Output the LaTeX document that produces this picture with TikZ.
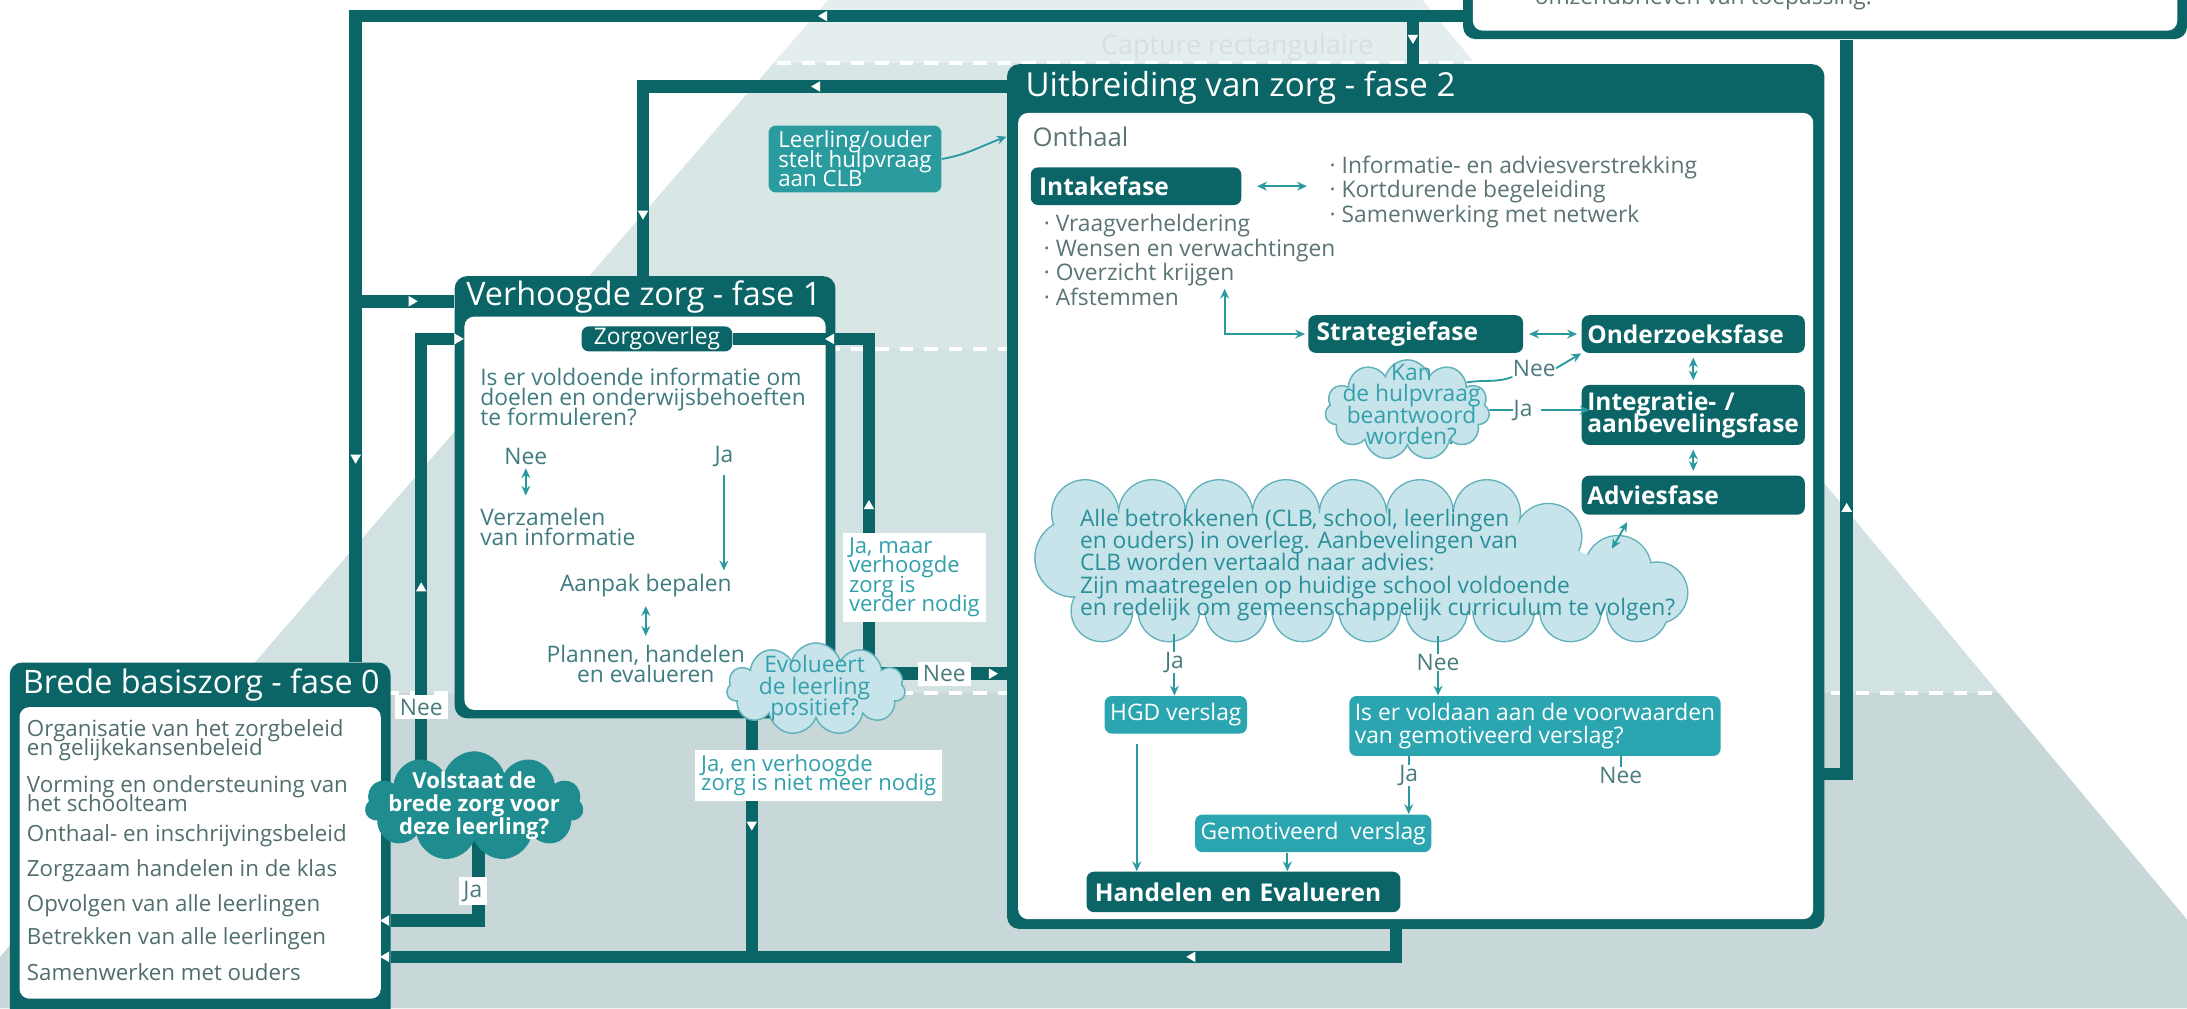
\documentclass[tikz,border=0pt]{standalone}
\usepackage{fontspec}
\setmainfont{Open Sans}
\usetikzlibrary{arrows.meta,shapes.symbols,fit}
\definecolor{dkteal}{HTML}{0B6466}
\definecolor{midteal}{HTML}{2BA6B0}
\definecolor{leerteal}{HTML}{2A9CA0}
\definecolor{cloudteal}{HTML}{1F8D8F}
\definecolor{cloudfill}{HTML}{C6E4E9}
\definecolor{cloudline}{HTML}{62B2BB}
\definecolor{cloudtxt}{HTML}{35A0AD}
\definecolor{alletxt}{HTML}{2B8F9B}
\definecolor{graytxt}{HTML}{516E6E}
\definecolor{bultxt}{HTML}{5B7474}
\definecolor{qtxt}{HTML}{3F7C80}
\definecolor{labtxt}{HTML}{2FA0AC}
\definecolor{labgray}{HTML}{4A7C7E}
\definecolor{arrowteal}{HTML}{2A9AA0}
\definecolor{bandA}{HTML}{E5EEEE}
\definecolor{bandB}{HTML}{D9E6E6}
\definecolor{bandC}{HTML}{D2E1E1}
\definecolor{bandD}{HTML}{C8D8D8}
\definecolor{ghost}{HTML}{D5E0E0}
\pgfdeclarelayer{back}
\pgfdeclarelayer{wires}
\pgfsetlayers{back,wires,main}
\newcommand{\fsz}[1]{\fontsize{9.3}{#1}\selectfont\lineskiplimit=-20pt}
\newcommand{\fsx}[2]{\fontsize{#1}{#2}\selectfont\lineskiplimit=-20pt}
\newcommand{\wtip}[3]{\fill[white,shift={(#1,#2)},rotate=#3] (3.5,0) -- (-3,3.8) -- (-3,-3.8) -- cycle;}

\begin{document}
\begin{tikzpicture}[x=0.02cm,y=-0.02cm,
  flow/.style={draw=dkteal,line width=5.1pt},
  fine/.style={draw=arrowteal,line width=0.75pt},
  arr/.style={fine,-{Stealth[length=4pt,width=3.6pt]}},
  arrs/.style={fine,{Stealth[length=4pt,width=3.6pt]}-{Stealth[length=4pt,width=3.6pt]}},
  phasebox/.style={fill=dkteal,rounded corners=5pt,inner sep=0pt},
  panel/.style={fill=white,rounded corners=4pt,inner sep=0pt},
  phasetitle/.style={anchor=west,inner sep=0pt,text=white,font=\fsx{13.2}{15}},
  dkbox/.style={fill=dkteal,text=white,font=\bfseries\fsx{10}{11},rounded corners=3pt,inner xsep=0.12cm,inner ysep=0pt,align=left},
  mdbox/.style={fill=midteal,text=white,font=\fsz{9.1},rounded corners=3pt,inner xsep=0.08cm,inner ysep=0pt,align=left},
  lab/.style={fill=white,text=labgray,font=\fsz{10},inner xsep=2pt,inner ysep=1.5pt},
  note/.style={fill=white,text=labtxt,anchor=west,align=left,inner xsep=2.5pt,inner ysep=2pt,font=\fsx{9}{7.9}},
  txt/.style={inner sep=0pt,font=\fsz{10}},
  item/.style={inner sep=0pt,anchor=west,align=left,text=graytxt,font=\fsx{9.1}{7.9}},
  lcloud/.style={cloud,cloud puffs=11,cloud ignores aspect,fill=cloudfill,draw=cloudline,line width=0.6pt,inner sep=0pt},
  dcloud/.style={cloud,cloud puffs=11,cloud ignores aspect,fill=cloudteal,draw=cloudteal,inner sep=0pt}]
\useasboundingbox (0,0) rectangle (1568,723);
\clip (0,0) rectangle (1568,723);

\begin{pgfonlayer}{back}
  \fill[white] (0,0) rectangle (1568,723);
  \begin{scope}
    \clip (811,-251) -- (1621,723) -- (-32,723) -- cycle;
    \fill[bandA] (-40,-260) rectangle (1640,45);
    \fill[bandB] (-40,45) rectangle (1640,250);
    \fill[bandC] (-40,250) rectangle (1640,497);
    \fill[bandD] (-40,497) rectangle (1640,730);
    \draw[white,line width=1.6pt,dash pattern=on 5.5pt off 4.5pt]
      (-40,45) -- (1640,45) (-40,250) -- (1640,250) (-40,497) -- (1640,497);
  \end{scope}
  \node[txt,text=ghost,font=\fsx{11}{13}] (ghost) at (887,34) {Capture rectangulaire};
\end{pgfonlayer}

% boxes
\node[phasebox,fit={(1049,-40) (1568,28)}] (topbox) {};
\node[panel,fit={(1056,-40) (1561,22)}] (topin) {};
\node[txt,anchor=west,text=bultxt] (omzend) at (1100,-1) {omzendbrieven van toepassing.};

\node[phasebox,fit={(7,475) (280,740)}] (f0) {};
\node[panel,fit={(14,507) (273,716)}] (f0in) {};
\node[phasetitle] (f0title) at (16,491) {Brede basiszorg - fase 0};

\node[phasebox,fit={(326,198) (599,515)}] (f1) {};
\node[panel,fit={(333,227) (592,509)}] (f1in) {};
\node[phasetitle] (f1title) at (334,213) {Verhoogde zorg - fase 1};

\node[phasebox,fit={(722,46) (1308,666)}] (f2) {};
\node[panel,fit={(730,81) (1300,659)}] (f2in) {};
\node[phasetitle,font=\fsx{13.5}{15}] (f2title) at (735,63) {Uitbreiding van zorg - fase 2};

% fase 0
\node[item] (b1) at (19,530.5) {Organisatie van het zorgbeleid\\en gelijkekansenbeleid};
\node[item] (b2) at (19,569) {Vorming en ondersteuning van\\het schoolteam};
\node[item] (b3) at (19,599) {Onthaal- en inschrijvingsbeleid};
\node[item] (b4) at (19,624) {Zorgzaam handelen in de klas};
\node[item] (b5) at (19,649) {Opvolgen van alle leerlingen};
\node[item] (b6) at (19,673) {Betrekken van alle leerlingen};
\node[item] (b7) at (19,697) {Samenwerken met ouders};

% fase 1
\node[dkbox,font=\fsz{10},minimum width=2.16cm,minimum height=0.36cm,align=center] (zorg) at (471,243) {Zorgoverleg};
\draw[flow] (zorg.east) -- (zorg.east -| f1.east);
\node[txt,anchor=west,align=left,text=qtxt,font=\fsz{8.3}] (vraag) at (344,284.5) {Is er voldoende informatie om\\doelen en onderwijsbehoeften\\te formuleren?};
\node[txt,text=qtxt] (neeV) at (377,327) {Nee};
\node[txt,text=qtxt] (jaV) at (519,327) {Ja};
\node[txt,anchor=west,align=left,text=qtxt,font=\fsz{8}] (verzamel) at (344,378) {Verzamelen\\van informatie};
\node[txt,text=qtxt] (aanpak) at (463,420) {Aanpak bepalen};
\node[txt,align=center,text=qtxt,font=\fsz{8.5}] (plannen) at (463,476) {Plannen, handelen\\en evalueren};
\draw[arrs] ([yshift=-0.05cm]neeV.south) -- ([yshift=0.18cm]verzamel.north -| neeV.south);
\draw[arr] ([yshift=-0.12cm]jaV.south) -- ([yshift=0.05cm]jaV.south |- aanpak.north);
\draw[arrs] ([yshift=-0.12cm]aanpak.south) -- ([yshift=0.12cm]plannen.north);

% fase 2
\node[mdbox,fill=leerteal,minimum width=2.48cm,minimum height=0.96cm,font=\fsx{9.1}{8}] (leerling) at (613,114) {Leerling/ouder\\stelt hulpvraag\\aan CLB};
\node[txt,anchor=west,text=bultxt,font=\fsx{10.5}{12}] (onthaal) at (740,98) {Onthaal};
\draw[arr] (leerling.east) to[out=10,in=200] (f2.west |- onthaal);
\node[dkbox,text width=2.78cm,minimum height=0.54cm] (intake) at (814.5,133.5) {Intakefase};
\node[txt,anchor=west,align=left,text=bultxt,font=\fsz{9.9}] (infolist) at (953,137.5) {· Informatie- en adviesverstrekking\\· Kortdurende begeleiding\\· Samenwerking met netwerk};
\draw[arrs] ([xshift=0.22cm]intake.east) -- ([xshift=-0.32cm]infolist.west |- intake.east);
\node[txt,anchor=west,align=left,text=bultxt,font=\fsz{10}] (intakelist) at (748,186.5) {· Vraagverheldering\\· Wensen en verwachtingen\\· Overzicht krijgen\\· Afstemmen};
\node[dkbox,text width=2.84cm,minimum height=0.54cm] (strat) at (1015,239.5) {Strategiefase};
\node[dkbox,inner xsep=0.08cm,text width=3.04cm,minimum height=0.54cm] (onderzoek) at (1214,239.5) {Onderzoeksfase};
\node[dkbox,inner xsep=0.08cm,text width=3.04cm,minimum height=0.86cm,font=\bfseries\fsx{10}{9.1}] (integr) at (1214,297.5) {Integratie- /\\aanbevelingsfase};
\node[dkbox,inner xsep=0.08cm,text width=3.04cm,minimum height=0.56cm] (advies) at (1214,355) {Adviesfase};
\coordinate (afst) at (878,207);
\draw[arrs] (afst) |- ([xshift=-0.04cm]strat.west);
\draw[arrs] ([xshift=0.08cm]strat.east) -- ([xshift=-0.06cm]onderzoek.west);
\draw[arrs] ([yshift=-0.06cm]onderzoek.south) -- ([yshift=0.06cm]integr.north);
\draw[arrs] ([yshift=-0.06cm]integr.south) -- ([yshift=0.06cm]advies.north);

\node[lcloud,minimum width=2.36cm,minimum height=1.44cm] (kan) at (1009,294) {};
\node[txt,align=center,text=cloudtxt,font=\fsz{8.7}] (kantxt) at (1012,290) {Kan\\de hulpvraag\\beantwoord\\worden?};
\node[txt,text=labgray] (neeKan) at (1100,264) {Nee};
\node[txt,text=labgray] (jaKan) at (1092,294) {Ja};
\draw[fine] (kan.25) to[out=10,in=200] (neeKan.south west);
\draw[arr] (neeKan.east) -- (onderzoek.south west);
\draw[fine] (kan.east) -- (jaKan.west);
\draw[arr] ([xshift=0.12cm]jaKan.east) -- ([xshift=0.12cm]jaKan.east -| integr.west);

\filldraw[fill=cloudfill,draw=cloudline,line width=0.6pt]
  (770,400) circle (28) (778,368) circle (24) (826,368) circle (24) (874,368) circle (24)
  (922,368) circle (24) (970,368) circle (24) (1018,368) circle (24) (1066,368) circle (24)
  (1110,385) circle (24) (1160,408) circle (24) (1188,425) circle (22)
  (790,438) circle (22) (838,438) circle (22) (886,438) circle (22) (934,438) circle (22)
  (982,438) circle (22) (1030,438) circle (22) (1078,438) circle (22) (1126,438) circle (22)
  (1174,438) circle (22);
\fill[cloudfill]
  (778,368) -- (1066,368) -- (1110,385) -- (1160,408) -- (1188,425) -- (1174,438) -- (790,438) -- (770,400) -- cycle
  (770,400) circle (27.4) (778,368) circle (23.4) (826,368) circle (23.4) (874,368) circle (23.4)
  (922,368) circle (23.4) (970,368) circle (23.4) (1018,368) circle (23.4) (1066,368) circle (23.4)
  (1110,385) circle (23.4) (1160,408) circle (23.4) (1188,425) circle (21.4)
  (790,438) circle (21.4) (838,438) circle (21.4) (886,438) circle (21.4) (934,438) circle (21.4)
  (982,438) circle (21.4) (1030,438) circle (21.4) (1078,438) circle (21.4) (1126,438) circle (21.4)
  (1174,438) circle (21.4);
\node[txt,anchor=west,align=left,text=alletxt,font=\fsz{9.1}] (alle) at (774,405) {Alle betrokkenen (CLB, school, leerlingen\\en ouders) in overleg. Aanbevelingen van\\CLB worden vertaald naar advies:\\Zijn maatregelen op huidige school voldoende\\en redelijk om gemeenschappelijk curriculum te volgen?};
\draw[arrs] ([shift={(0.66cm,-0.1cm)}]advies.south west) -- ([shift={(0.44cm,-0.48cm)}]advies.south west);

\node[txt,text=labgray] (jaAlle) at (842,475) {Ja};
\node[txt,text=labgray] (neeAlle) at (1031,475) {Nee};
\node[mdbox,minimum width=2cm,minimum height=0.54cm] (hgd) at (843,512.5) {HGD verslag};
\node[mdbox,minimum width=5.18cm,minimum height=0.86cm] (voldaan) at (1100.5,520.5) {Is er voldaan aan de voorwaarden\\van gemotiveerd verslag?};
\node[txt,text=labgray] (jaVold) at (1010,556) {Ja};
\node[txt,text=labgray] (neeVold) at (1162,556) {Nee};
\node[mdbox,minimum width=3.3cm,minimum height=0.54cm] (gemot) at (941.5,597.5) {Gemotiveerd\ \ verslag};
\node[dkbox,text width=4.26cm,minimum height=0.58cm] (handelen) at (891.5,639.5) {Handelen en Evalueren};
\draw[fine] ([yshift=0.26cm]jaAlle.north) -- (jaAlle.north);
\draw[arr] (jaAlle.south) -- (jaAlle.south |- hgd.north);
\draw[fine] ([yshift=0.26cm]neeAlle.north) -- (neeAlle.north);
\draw[arr] (neeAlle.south) -- (neeAlle.south |- voldaan.north);
\coordinate (hgdout) at ([shift={(-0.56cm,-0.14cm)}]hgd.south);
\draw[arr] (hgdout) -- (hgdout |- handelen.north);
\draw[fine] (jaVold.north |- voldaan.south) -- (jaVold.north);
\draw[arr] (jaVold.south) -- (jaVold.south |- gemot.north);
\draw[fine] (neeVold.north |- voldaan.south) -- (neeVold.north);
\coordinate (gemout) at ([xshift=-0.37cm]gemot.south);
\draw[arr] (gemout) -- (gemout |- handelen.north);

% clouds and labels of the loops
\node[dcloud,minimum width=3.12cm,minimum height=1.56cm] (volstaat) at (340,578) {};
\node[txt,align=center,text=white,font=\bfseries\fsx{9}{9.4}] (volstaattxt) at (340,577.5) {Volstaat de\\brede zorg voor\\deze leerling?};
\node[lcloud,minimum width=2.56cm,minimum height=1.32cm] (evol) at (585,494) {};
\node[txt,align=center,text=cloudtxt,font=\fsz{8.8}] (evoltxt) at (584,493.5) {Evolueert\\de leerling\\positief?};
\node[lab] (neeA) at (302,507) {Nee};
\node[lab] (jaA) at (339,639) {Ja};
\node[lab] (neeB) at (677,483) {Nee};
\node[note] (jamaar) at (604,414) {Ja, maar\\verhoogde\\zorg is\\verder nodig};
\node[note] (jaen) at (498,556) {Ja, en verhoogde\\zorg is niet meer nodig};

\coordinate (tl) at (255,11.5);
\coordinate (tb) at (255,216);
\coordinate (drop) at (1013,11.5);
\coordinate (ml) at (461,62);
\coordinate (zl) at (302,243);
\coordinate (zr) at (623,243);
\coordinate (jc) at (343,660);
\coordinate (nb) at (585,483);
\coordinate (bl) at (539,686);
\coordinate (br) at (1001,686);
\coordinate (nr) at (1324,555);
\coordinate (ns) at ([xshift=0.24cm]neeVold.east);

\begin{pgfonlayer}{wires}
  \draw[flow] (topbox.west |- tl) -- (tl) -- (tl |- f0.north);
  \draw[flow] (tb) -- (tb -| f1.west);
  \draw[flow] (drop) -- (drop |- f2.north);
  \draw[flow] (f2.west |- ml) -- (ml) -- (ml |- f1.north);
  \draw[flow] (zl |- volstaat.center) -- (zl) -- (zl -| f1.west);
  \draw[flow] (zr |- evol.center) -- (zr) -- (zr -| f1.east);
  \draw[flow] (jc |- volstaat.center) -- (jc) -- (jc -| f0.east);
  \draw[flow] (nb) -- (nb -| f2.west);
  \draw[flow] (bl |- evol.center) -- (bl);
  \draw[flow] (br |- f2.south) -- (br) -- (br -| f0.east);
  \draw[flow] (ns |- nr) -- (nr) -- (nr |- topbox.south);
\end{pgfonlayer}

\wtip{590}{11.5}{180}
\wtip{255}{329}{270}
\wtip{296}{216}{0}
\wtip{1013}{28}{270}
\wtip{585}{62}{180}
\wtip{461}{154}{270}
\wtip{302}{421}{90}
\wtip{329}{243}{0}
\wtip{623}{362}{90}
\wtip{595}{243}{180}
\wtip{276}{660}{180}
\wtip{712}{483}{0}
\wtip{539}{592}{270}
\wtip{854}{686}{180}
\wtip{276}{686}{180}
\wtip{1247}{555}{0}
\wtip{1324}{364}{90}
\end{tikzpicture}
\end{document}
